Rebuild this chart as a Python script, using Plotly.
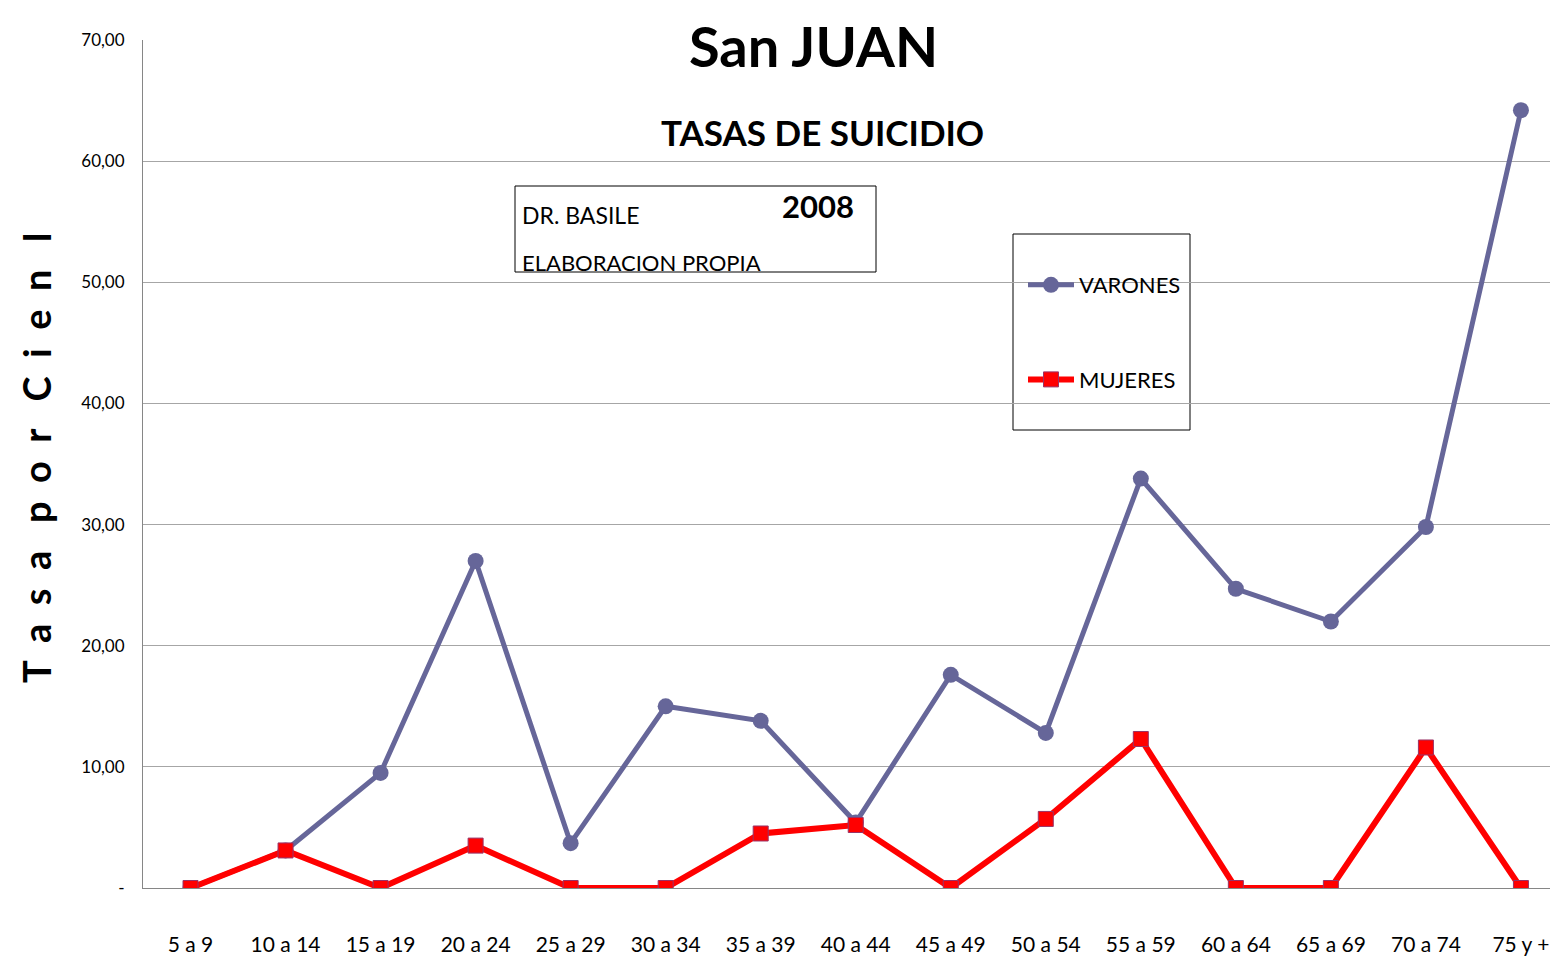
import plotly.graph_objects as go

categories = ["5 a 9", "10 a 14", "15 a 19", "20 a 24", "25 a 29", "30 a 34", "35 a 39",
              "40 a 44", "45 a 49", "50 a 54", "55 a 59", "60 a 64", "65 a 69", "70 a 74", "75 y +"]
varones = [0.0, 3.1, 9.5, 27.0, 3.7, 15.0, 13.8, 5.4, 17.6, 12.8, 33.8, 24.7, 22.0, 29.8, 64.2]
mujeres = [0.0, 3.1, 0.0, 3.5, 0.0, 0.0, 4.5, 5.2, 0.0, 5.7, 12.3, 0.0, 0.0, 11.6, 0.0]
y_ticks = [0, 10, 20, 30, 40, 50, 60, 70]
y_ticklabels = ["-", "10,00", "20,00", "30,00", "40,00", "50,00", "60,00", "70,00"]

FONT = "Lato, Open Sans, sans-serif"

# page body has an 8px margin; screen coords of plot area
SX0, SX1, SY0, SY1 = 143, 1558, 40, 888


def px(sx):
    return (sx - SX0) / (SX1 - SX0)


def py(sy):
    return (SY1 - sy) / (SY1 - SY0)


fig = go.Figure()
fig.add_trace(go.Scatter(
    x=list(range(len(categories))), y=varones, name="VARONES", mode="lines+markers",
    line=dict(color="#666699", width=5),
    marker=dict(symbol="circle", size=16, color="#666699"),
    legendgroup="v",
))
fig.add_trace(go.Scatter(
    x=list(range(len(categories))), y=mujeres, name="MUJERES", mode="lines+markers",
    line=dict(color="#FF0000", width=6),
    marker=dict(symbol="square", size=15, color="#FF0000", line=dict(color="#993366", width=1)),
    legendgroup="m",
))

fig.update_layout(
    width=1550, height=954,
    margin=dict(l=135, r=0, t=32, b=74),
    paper_bgcolor="white", plot_bgcolor="white",
    font=dict(family=FONT, color="black"),
    showlegend=True,
    legend=dict(
        x=px(1023), y=py(264), xanchor="left", yanchor="top",
        borderwidth=0, bgcolor="rgba(0,0,0,0)",
        font=dict(size=22, family=FONT), tracegroupgap=63,
        itemwidth=46,
    ),
    xaxis=dict(
        range=[-0.5, 14.39], tickmode="array", tickvals=list(range(len(categories))),
        ticktext=categories, showgrid=False, zeroline=False,
        showline=True, linecolor="#868686", linewidth=1, ticks="",
        tickfont=dict(size=21, family=FONT), ticklabelstandoff=38,
    ),
    yaxis=dict(
        range=[0, 70], tickmode="array", tickvals=y_ticks, ticktext=y_ticklabels,
        showgrid=True, gridcolor="#A6A6A6", gridwidth=1, zeroline=False,
        showline=True, linecolor="#868686", linewidth=1, ticks="",
        tickfont=dict(size=17, family=FONT), ticklabelstandoff=14,
    ),
)

# Y axis title
fig.add_annotation(text="<b>T  a  s  a   p  o  r   C  i  e  n   l</b>", xref="paper", yref="paper",
                   x=px(36), y=py(458), textangle=-90, showarrow=False,
                   font=dict(size=38, family=FONT), xanchor="center", yanchor="middle")

# Titles
fig.add_annotation(text="<b>San JUAN</b>", xref="paper", yref="paper", x=px(813), y=py(45),
                   showarrow=False, font=dict(size=56, family=FONT), xanchor="center", yanchor="middle")
fig.add_annotation(text="<b>TASAS DE SUICIDIO</b>", xref="paper", yref="paper", x=px(822), y=py(132),
                   showarrow=False, font=dict(size=35, family=FONT), xanchor="center", yanchor="middle")

# Author box
fig.add_shape(type="rect", xref="paper", yref="paper",
              x0=px(515), x1=px(876), y0=py(272), y1=py(186),
              line=dict(color="black", width=1), fillcolor="white", layer="above")
fig.add_annotation(text="DR. BASILE", xref="paper", yref="paper", x=px(520), y=py(215),
                   showarrow=False, font=dict(size=23, family=FONT), xanchor="left", yanchor="middle")
fig.add_annotation(text="ELABORACION PROPIA", xref="paper", yref="paper", x=px(520), y=py(262),
                   showarrow=False, font=dict(size=22, family=FONT), xanchor="left", yanchor="middle")
fig.add_annotation(text="<b>2008</b>", xref="paper", yref="paper", x=px(818), y=py(206),
                   showarrow=False, font=dict(size=31, family=FONT), xanchor="center", yanchor="middle")

# Legend frame
fig.add_shape(type="rect", xref="paper", yref="paper",
              x0=px(1013), x1=px(1190), y0=py(430), y1=py(234),
              line=dict(color="black", width=1), fillcolor="white", layer="below")

fig.write_html("out.html")
